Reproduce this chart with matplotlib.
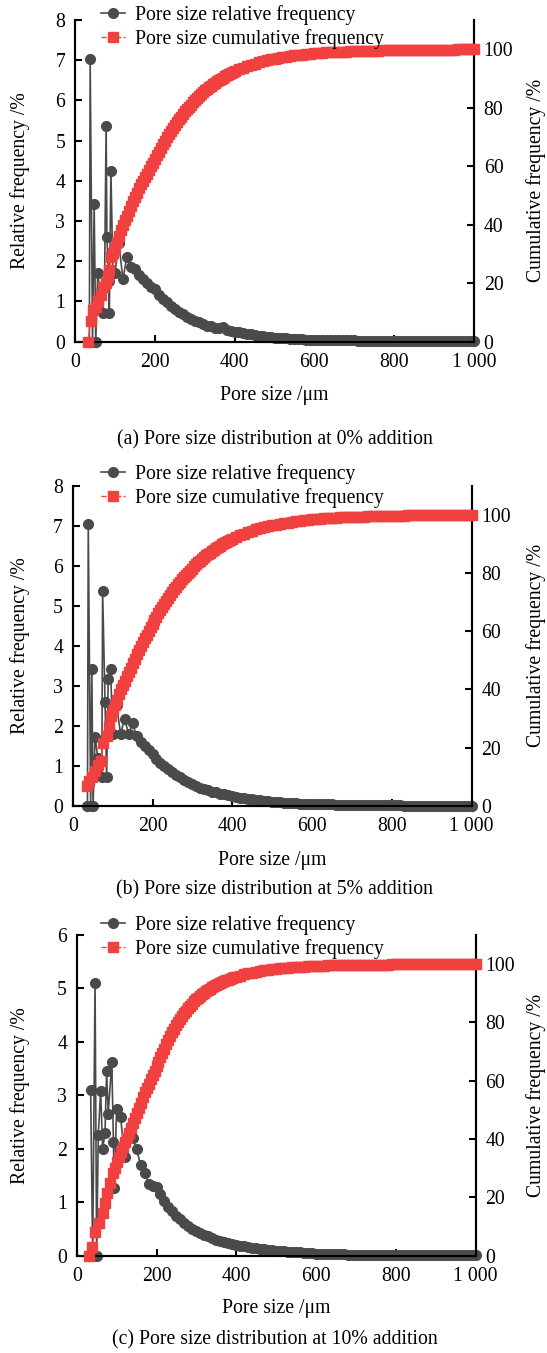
import numpy as np
import matplotlib
matplotlib.use("Agg")
import matplotlib.pyplot as plt
from matplotlib.lines import Line2D

plt.rcParams['font.family'] = ['Liberation Serif', 'DejaVu Serif']
FS = 14.2
plt.rcParams['font.size'] = FS

GREY = '#4a4a4a'
RED = '#f0403f'

# pore size grids (um)
grid_rel = list(range(100, 1001, 10))                          # relative frequency
grid_cum = list(range(100, 400, 5)) + list(range(400, 1001, 10))  # cumulative frequency

# ---- (a) 0% addition ----
rel_x_a_head = [36, 38, 44, 48, 52, 57, 63, 69, 74, 78, 80, 84, 86, 90, 95]
rel_a_head = [0, 7.02, 0, 3.42, 0, 1.70, 1.20, 0.71, 1.40, 5.37, 2.61, 1.50, 0.71, 4.25, 1.70]
cum_x_a_head = [33, 39, 46, 52, 58, 64, 71, 77, 82, 86, 90, 95]
cum_a_head = [0, 7.0, 10.8, 12.0, 14.0, 16.0, 18.7, 20.0, 22.0, 24.4, 28.9, 30.5]

rel_a = [1.70, 2.45, 1.55, 2.11, 1.85, 1.80, 1.65, 1.55, 1.45, 1.35,
         1.30, 1.15, 1.05, 0.98, 0.90, 0.82, 0.75, 0.70, 0.62, 0.57,
         0.52, 0.48, 0.44, 0.40, 0.38, 0.35, 0.33, 0.36, 0.30, 0.27,
         0.25, 0.23, 0.21, 0.20, 0.18, 0.16, 0.15, 0.13, 0.12, 0.11,
         0.10, 0.09, 0.08, 0.08, 0.07, 0.07, 0.06, 0.06, 0.05, 0.05,
         0.05, 0.04, 0.04, 0.04, 0.04, 0.03, 0.03, 0.03, 0.03, 0.03,
         0.03, 0.02, 0.02, 0.02, 0.02, 0.02, 0.02, 0.02, 0.02, 0.02,
         0.02, 0.02, 0.01, 0.01, 0.01, 0.01, 0.01, 0.01, 0.01, 0.01,
         0.01, 0.01, 0.01, 0.01, 0.01, 0.01, 0.01, 0.01, 0.01, 0.01,
         0.01]
cum_a = [32.0, 34.0, 36.0, 38.1, 40.0, 41.6, 43.0, 44.8, 46.5, 48.0,
         49.5, 51.0, 52.5, 53.8, 55.0, 56.3, 57.5, 58.8, 60.0, 61.2,
         62.5, 63.8, 65.0, 66.2, 67.5, 68.7, 70.0, 71.0, 72.0, 73.0,
         74.0, 75.0, 76.0, 77.0, 78.0, 78.8, 79.5, 80.3, 81.0, 81.8,
         82.5, 83.3, 84.0, 84.7, 85.3, 85.9, 86.5, 87.0, 87.5, 88.0,
         88.5, 89.0, 89.4, 89.9, 90.3, 90.7, 91.1, 91.5, 91.8, 92.2,
         92.5, 93.1, 93.7, 94.2, 94.7, 95.1, 95.5, 95.9, 96.2, 96.5,
         96.8, 97.05, 97.3, 97.5, 97.7, 97.9, 98.05, 98.2, 98.35, 98.5,
         98.6, 98.7, 98.8, 98.9, 99.0, 99.05, 99.1, 99.15, 99.2, 99.25,
         99.3, 99.35, 99.4, 99.45, 99.5, 99.52, 99.55, 99.58, 99.6, 99.62,
         99.65, 99.67, 99.69, 99.71, 99.73, 99.75, 99.77, 99.79, 99.8, 99.82,
         99.84, 99.85, 99.87, 99.88, 99.9, 99.91, 99.93, 99.95, 99.97, 99.98,
         100.0]

# ---- (b) 5% addition ----
rel_x_b_head = [37, 39, 45, 48, 51, 56, 63, 73, 75, 81, 85, 89, 95]
rel_b_head = [0, 7.03, 0, 3.41, 0, 1.73, 1.20, 0.73, 5.37, 2.60, 0.73, 3.18, 3.41]
cum_x_b_head = [35, 42, 48, 55, 63, 70, 77, 85, 92, 96]
cum_b_head = [6.7, 8.5, 10.1, 12.0, 14.0, 15.6, 21.6, 23.9, 27.3, 30.8]

rel_b = [1.80, 2.52, 1.80, 2.18, 1.80, 2.06, 1.75, 1.60, 1.50, 1.40,
         1.30, 1.18, 1.08, 1.00, 0.92, 0.85, 0.78, 0.72, 0.65, 0.60,
         0.55, 0.50, 0.46, 0.42, 0.39, 0.36, 0.34, 0.31, 0.29, 0.27,
         0.25, 0.23, 0.21, 0.20, 0.18, 0.17, 0.15, 0.14, 0.13, 0.12,
         0.11, 0.10, 0.09, 0.08, 0.08, 0.07, 0.07, 0.06, 0.06, 0.05,
         0.05, 0.05, 0.04, 0.04, 0.04, 0.04, 0.03, 0.03, 0.03, 0.03,
         0.03, 0.03, 0.02, 0.02, 0.02, 0.02, 0.02, 0.02, 0.02, 0.02,
         0.02, 0.02, 0.02, 0.01, 0.01, 0.01, 0.01, 0.01, 0.01, 0.01,
         0.01, 0.01, 0.01, 0.01, 0.01, 0.01, 0.01, 0.01, 0.01, 0.01,
         0.01]
cum_b = [33.0, 34.8, 36.5, 38.3, 40.0, 41.5, 43.0, 44.5, 46.0, 47.5,
         49.0, 50.5, 52.0, 53.4, 54.8, 56.2, 57.5, 58.8, 60.0, 61.3,
         62.5, 63.8, 65.0, 66.2, 67.3, 68.4, 69.5, 70.5, 71.5, 72.5,
         73.5, 74.4, 75.3, 76.2, 77.0, 77.8, 78.6, 79.4, 80.1, 80.8,
         81.5, 82.2, 82.9, 83.6, 84.2, 84.8, 85.4, 86.0, 86.5, 87.0,
         87.5, 88.0, 88.5, 89.0, 89.4, 89.8, 90.2, 90.6, 91.0, 91.4,
         91.7, 92.3, 92.9, 93.5, 94.0, 94.5, 94.9, 95.3, 95.7, 96.0,
         96.3, 96.6, 96.9, 97.1, 97.3, 97.5, 97.7, 97.9, 98.05, 98.2,
         98.35, 98.5, 98.6, 98.7, 98.8, 98.9, 99.0, 99.05, 99.1, 99.15,
         99.2, 99.25, 99.3, 99.35, 99.4, 99.45, 99.5, 99.52, 99.55, 99.58,
         99.6, 99.63, 99.66, 99.69, 99.72, 99.75, 99.78, 99.8, 99.82, 99.84,
         99.86, 99.88, 99.9, 99.91, 99.92, 99.93, 99.95, 99.96, 99.98, 99.99,
         100.0]

# ---- (c) 10% addition ----
rel_x_c_head = [35, 40, 46, 50, 54, 60, 65, 71, 75, 79, 88, 92, 94]
rel_c_head = [3.10, 0, 5.11, 0, 2.25, 3.08, 2.00, 2.30, 3.46, 2.66, 3.62, 2.13, 1.26]
cum_x_c_head = [30, 38, 46, 57, 65, 71, 77, 84, 92, 96]
cum_c_head = [0, 3.1, 8.3, 11.2, 14.6, 18.1, 21.5, 25.0, 28.4, 30.2]

rel_c = [2.75, 2.60, 1.85, 2.31, 2.20, 2.00, 1.70, 1.55, 1.35, 1.30,
         1.29, 1.15, 1.02, 0.92, 0.83, 0.75, 0.68, 0.62, 0.56, 0.50,
         0.46, 0.42, 0.38, 0.36, 0.33, 0.30, 0.28, 0.26, 0.24, 0.22,
         0.20, 0.19, 0.18, 0.17, 0.15, 0.14, 0.13, 0.12, 0.11, 0.10,
         0.09, 0.09, 0.08, 0.07, 0.07, 0.06, 0.06, 0.05, 0.05, 0.05,
         0.04, 0.04, 0.04, 0.03, 0.03, 0.03, 0.03, 0.03, 0.02, 0.02,
         0.02, 0.02, 0.02, 0.02, 0.02, 0.02, 0.01, 0.01, 0.01, 0.01,
         0.01, 0.01, 0.01, 0.01, 0.01, 0.01, 0.01, 0.01, 0.01, 0.01,
         0.01, 0.01, 0.01, 0.01, 0.01, 0.01, 0.01, 0.01, 0.01, 0.01,
         0.01]
cum_c = [32.0, 33.8, 35.5, 37.3, 39.0, 40.5, 42.0, 43.8, 45.5, 47.3,
         49.0, 50.8, 52.5, 54.3, 56.0, 57.5, 59.0, 60.5, 62.0, 63.5,
         65.0, 66.5, 68.0, 69.5, 71.0, 72.5, 74.0, 75.4, 76.7, 77.9,
         79.0, 80.1, 81.2, 82.2, 83.2, 84.1, 85.0, 85.8, 86.5, 87.2,
         87.9, 88.5, 89.1, 89.7, 90.2, 90.7, 91.1, 91.6, 92.0, 92.4,
         92.8, 93.2, 93.5, 93.8, 94.1, 94.4, 94.7, 95.0, 95.2, 95.5,
         95.7, 96.1, 96.5, 96.8, 97.1, 97.4, 97.6, 97.85, 98.05, 98.25,
         98.4, 98.55, 98.7, 98.8, 98.9, 99.0, 99.1, 99.18, 99.25, 99.32,
         99.38, 99.44, 99.5, 99.54, 99.58, 99.62, 99.65, 99.68, 99.71, 99.74,
         99.76, 99.78, 99.8, 99.82, 99.84, 99.85, 99.86, 99.87, 99.88, 99.89,
         99.9, 99.91, 99.92, 99.93, 99.94, 99.95, 99.95, 99.96, 99.96, 99.97,
         99.97, 99.98, 99.98, 99.98, 99.99, 99.99, 99.99, 100.0, 100.0, 100.0,
         100.0]

panels = [
    dict(rel_x=rel_x_a_head + grid_rel, rel=rel_a_head + rel_a,
         cum_x=cum_x_a_head + grid_cum, cum=cum_a_head + cum_a,
         ymax=8, caption='(a) Pore size distribution at 0% addition',
         rect=[75, 20, 474, 341.7], leg_y=5, xlab_y=395, cap_y=440),
    dict(rel_x=rel_x_b_head + grid_rel, rel=rel_b_head + rel_b,
         cum_x=cum_x_b_head + grid_cum, cum=cum_b_head + cum_b,
         ymax=8, caption='(b) Pore size distribution at 5% addition',
         rect=[72.7, 485.5, 471.7, 806], leg_y=464, xlab_y=860, cap_y=890),
    dict(rel_x=rel_x_c_head + grid_rel, rel=rel_c_head + rel_c,
         cum_x=cum_x_c_head + grid_cum, cum=cum_c_head + cum_c,
         ymax=6, caption='(c) Pore size distribution at 10% addition',
         rect=[76.7, 935, 475.7, 1255.7], leg_y=915, xlab_y=1308, cap_y=1340),
]

W, H = 547, 1353
fig = plt.figure(figsize=(W / 100, H / 100), dpi=100)

for p in panels:
    x0, y0, x1, y1 = p['rect']
    ax = fig.add_axes([x0 / W, 1 - y1 / H, (x1 - x0) / W, (y1 - y0) / H])
    ax2 = ax.twinx()

    ax.plot(p['rel_x'], p['rel'], '-o', color=GREY, lw=1.2, ms=7.0,
            mec=GREY, clip_on=False, zorder=3)
    ax2.plot(p['cum_x'], p['cum'], '-s', color=RED, lw=1.0, ms=7.0,
             mec=RED, clip_on=False, zorder=3)

    ax.set_xlim(0, 1000)
    ax.set_ylim(0, p['ymax'])
    ax2.set_ylim(0, 110)
    ax.set_xticks(range(0, 1001, 200))
    ax.set_xticklabels(['0', '200', '400', '600', '800', '1 000'])
    ax.set_yticks(range(0, p['ymax'] + 1))
    ax2.set_yticks(range(0, 101, 20))

    for a in (ax, ax2):
        a.spines['top'].set_visible(False)
        for s in a.spines.values():
            s.set_linewidth(1.5)
        a.tick_params(direction='in', length=5, width=1.5, labelsize=FS)
    ax.tick_params(axis='y', pad=7)
    ax.tick_params(axis='x', pad=8)
    ax2.tick_params(axis='y', pad=7)

    cy = 1 - (y0 + y1) / 2 / H
    fig.text(20 / W, cy, 'Relative frequency /%', rotation=90,
             ha='center', va='center', fontsize=FS)
    fig.text(536 / W, cy, 'Cumulative frequency /%', rotation=90,
             ha='center', va='center', fontsize=FS)
    fig.text((x0 + x1) / 2 / W, 1 - p['xlab_y'] / H, 'Pore size /μm',
             ha='center', va='center', fontsize=FS)
    fig.text(275 / W, 1 - p['cap_y'] / H, p['caption'],
             ha='center', va='center', fontsize=FS)

    handles = [Line2D([], [], color=GREY, marker='o', ms=7.0, lw=1.2),
               Line2D([], [], color=RED, marker='s', ms=7.0, lw=1.0, ls='--')]
    fig.legend(handles, ['Pore size relative frequency',
                         'Pore size cumulative frequency'],
               loc='upper left', bbox_to_anchor=(101 / W, 1 - p['leg_y'] / H),
               frameon=False, handlelength=1.2, handletextpad=0.5,
               labelspacing=0.22, borderpad=0, borderaxespad=0,
               fontsize=FS)

fig.savefig('out.png', dpi=100)
